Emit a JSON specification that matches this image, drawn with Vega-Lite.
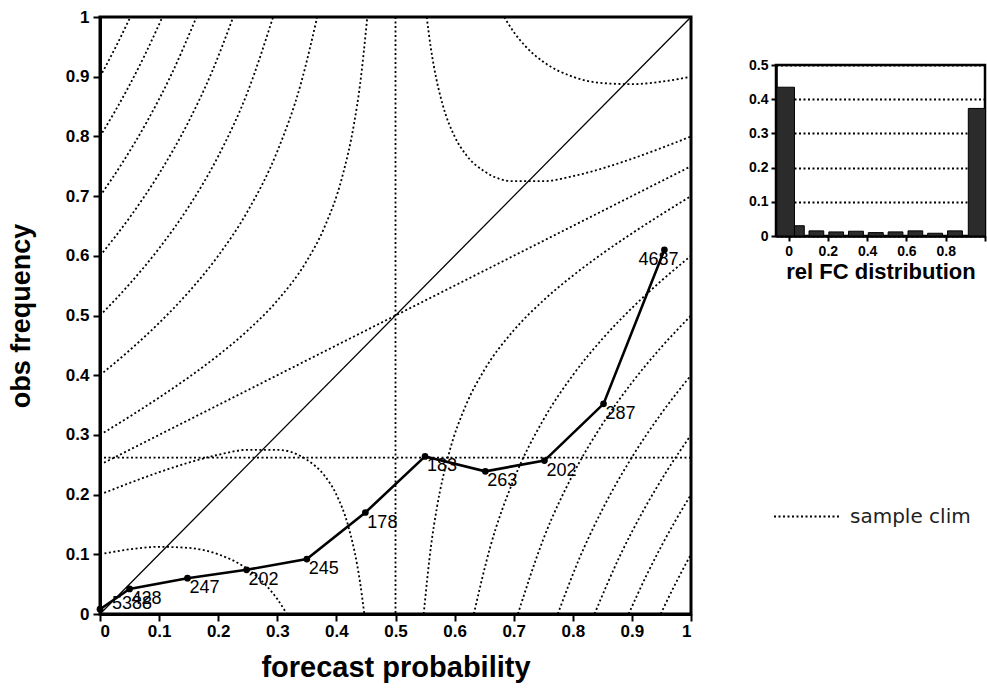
{
  "$schema": "https://vega.github.io/schema/vega-lite/v6.json",
  "background": "white",
  "padding": {"left": 5, "top": 6, "right": 0, "bottom": 0},
  "bounds": "flush",
  "spacing": 85,
  "config": {
    "font": "Liberation Sans",
    "view": {"stroke": "black", "strokeWidth": 3},
    "axis": {
      "domainColor": "black", "tickColor": "black", "labelColor": "black", "titleColor": "black",
      "grid": false, "labelFont": "Liberation Sans", "labelFontWeight": "bold",
      "titleFont": "Liberation Sans", "titleFontWeight": "bold"
    }
  },
  "datasets": {
    "iso": [
      {"c": "ul9", "p": 0, "o": 0.9}, {"c": "ul9", "p": 0.0125, "o": 0.9229}, {"c": "ul9", "p": 0.025, "o": 0.9467}, {"c": "ul9", "p": 0.0375, "o": 0.9715}, {"c": "ul9", "p": 0.0513, "o": 1.0},
      {"c": "ul8", "p": 0, "o": 0.8}, {"c": "ul8", "p": 0.025, "o": 0.8414}, {"c": "ul8", "p": 0.05, "o": 0.8861}, {"c": "ul8", "p": 0.075, "o": 0.9346}, {"c": "ul8", "p": 0.1056, "o": 1.0},
      {"c": "ul7", "p": 0, "o": 0.7}, {"c": "ul7", "p": 0.04, "o": 0.7591}, {"c": "ul7", "p": 0.08, "o": 0.8257}, {"c": "ul7", "p": 0.12, "o": 0.9021}, {"c": "ul7", "p": 0.1633, "o": 1.0},
      {"c": "ul6", "p": 0, "o": 0.6}, {"c": "ul6", "p": 0.05, "o": 0.6639}, {"c": "ul6", "p": 0.1, "o": 0.7375}, {"c": "ul6", "p": 0.15, "o": 0.825}, {"c": "ul6", "p": 0.19, "o": 0.9095}, {"c": "ul6", "p": 0.2254, "o": 1.0},
      {"c": "ul5", "p": 0, "o": 0.5}, {"c": "ul5", "p": 0.05, "o": 0.5528}, {"c": "ul5", "p": 0.1, "o": 0.6125}, {"c": "ul5", "p": 0.15, "o": 0.6821}, {"c": "ul5", "p": 0.2, "o": 0.7667}, {"c": "ul5", "p": 0.25, "o": 0.875}, {"c": "ul5", "p": 0.2929, "o": 1.0},
      {"c": "ul4", "p": 0, "o": 0.4}, {"c": "ul4", "p": 0.05, "o": 0.4417}, {"c": "ul4", "p": 0.1, "o": 0.4875}, {"c": "ul4", "p": 0.15, "o": 0.5393}, {"c": "ul4", "p": 0.2, "o": 0.6}, {"c": "ul4", "p": 0.25, "o": 0.675}, {"c": "ul4", "p": 0.3, "o": 0.775}, {"c": "ul4", "p": 0.34, "o": 0.8888}, {"c": "ul4", "p": 0.3675, "o": 1.0},
      {"c": "ul3", "p": 0, "o": 0.3}, {"c": "ul3", "p": 0.05, "o": 0.3306}, {"c": "ul3", "p": 0.1, "o": 0.3625}, {"c": "ul3", "p": 0.15, "o": 0.3964}, {"c": "ul3", "p": 0.2, "o": 0.4333}, {"c": "ul3", "p": 0.25, "o": 0.475}, {"c": "ul3", "p": 0.3, "o": 0.525}, {"c": "ul3", "p": 0.35, "o": 0.5917}, {"c": "ul3", "p": 0.38, "o": 0.6483}, {"c": "ul3", "p": 0.41, "o": 0.7328}, {"c": "ul3", "p": 0.43, "o": 0.8221}, {"c": "ul3", "p": 0.44, "o": 0.8867}, {"c": "ul3", "p": 0.4523, "o": 1.0},
      {"c": "lr9", "p": 0.9487, "o": 0}, {"c": "lr9", "p": 0.9625, "o": 0.0285}, {"c": "lr9", "p": 0.975, "o": 0.0533}, {"c": "lr9", "p": 0.9875, "o": 0.0771}, {"c": "lr9", "p": 1, "o": 0.1},
      {"c": "lr8", "p": 0.8944, "o": 0}, {"c": "lr8", "p": 0.925, "o": 0.0654}, {"c": "lr8", "p": 0.95, "o": 0.1139}, {"c": "lr8", "p": 0.975, "o": 0.1586}, {"c": "lr8", "p": 1, "o": 0.2},
      {"c": "lr7", "p": 0.8367, "o": 0}, {"c": "lr7", "p": 0.88, "o": 0.0979}, {"c": "lr7", "p": 0.92, "o": 0.1743}, {"c": "lr7", "p": 0.96, "o": 0.2409}, {"c": "lr7", "p": 1, "o": 0.3},
      {"c": "lr6", "p": 0.7746, "o": 0}, {"c": "lr6", "p": 0.81, "o": 0.0905}, {"c": "lr6", "p": 0.85, "o": 0.175}, {"c": "lr6", "p": 0.9, "o": 0.2625}, {"c": "lr6", "p": 0.95, "o": 0.3361}, {"c": "lr6", "p": 1, "o": 0.4},
      {"c": "lr5", "p": 0.7071, "o": 0}, {"c": "lr5", "p": 0.75, "o": 0.125}, {"c": "lr5", "p": 0.8, "o": 0.2333}, {"c": "lr5", "p": 0.85, "o": 0.3179}, {"c": "lr5", "p": 0.9, "o": 0.3875}, {"c": "lr5", "p": 0.95, "o": 0.4472}, {"c": "lr5", "p": 1, "o": 0.5},
      {"c": "lr4", "p": 0.6325, "o": 0}, {"c": "lr4", "p": 0.66, "o": 0.1112}, {"c": "lr4", "p": 0.7, "o": 0.225}, {"c": "lr4", "p": 0.75, "o": 0.325}, {"c": "lr4", "p": 0.8, "o": 0.4}, {"c": "lr4", "p": 0.85, "o": 0.4607}, {"c": "lr4", "p": 0.9, "o": 0.5125}, {"c": "lr4", "p": 0.95, "o": 0.5583}, {"c": "lr4", "p": 1, "o": 0.6},
      {"c": "lr3", "p": 0.5477, "o": 0}, {"c": "lr3", "p": 0.56, "o": 0.1133}, {"c": "lr3", "p": 0.57, "o": 0.1779}, {"c": "lr3", "p": 0.59, "o": 0.2672}, {"c": "lr3", "p": 0.62, "o": 0.3517}, {"c": "lr3", "p": 0.65, "o": 0.4083}, {"c": "lr3", "p": 0.7, "o": 0.475}, {"c": "lr3", "p": 0.75, "o": 0.525}, {"c": "lr3", "p": 0.8, "o": 0.5667}, {"c": "lr3", "p": 0.85, "o": 0.6036}, {"c": "lr3", "p": 0.9, "o": 0.6375}, {"c": "lr3", "p": 0.95, "o": 0.6694}, {"c": "lr3", "p": 1, "o": 0.7},
      {"c": "ll1", "p": 0, "o": 0.1}, {"c": "ll1", "p": 0.05, "o": 0.1083}, {"c": "ll1", "p": 0.1, "o": 0.1125}, {"c": "ll1", "p": 0.15, "o": 0.1107}, {"c": "ll1", "p": 0.2, "o": 0.1}, {"c": "ll1", "p": 0.25, "o": 0.075}, {"c": "ll1", "p": 0.28, "o": 0.0491}, {"c": "ll1", "p": 0.3, "o": 0.025}, {"c": "ll1", "p": 0.3162, "o": 0},
      {"c": "ll2", "p": 0, "o": 0.2}, {"c": "ll2", "p": 0.05, "o": 0.2194}, {"c": "ll2", "p": 0.1, "o": 0.2375}, {"c": "ll2", "p": 0.15, "o": 0.2536}, {"c": "ll2", "p": 0.2, "o": 0.2667}, {"c": "ll2", "p": 0.25, "o": 0.275}, {"c": "ll2", "p": 0.3, "o": 0.275}, {"c": "ll2", "p": 0.35, "o": 0.2583}, {"c": "ll2", "p": 0.38, "o": 0.2317}, {"c": "ll2", "p": 0.4, "o": 0.2}, {"c": "ll2", "p": 0.42, "o": 0.1475}, {"c": "ll2", "p": 0.435, "o": 0.0829}, {"c": "ll2", "p": 0.44, "o": 0.0533}, {"c": "ll2", "p": 0.4472, "o": 0},
      {"c": "ur1", "p": 0.6838, "o": 1}, {"c": "ur1", "p": 0.7, "o": 0.975}, {"c": "ur1", "p": 0.72, "o": 0.9509}, {"c": "ur1", "p": 0.75, "o": 0.925}, {"c": "ur1", "p": 0.8, "o": 0.9}, {"c": "ur1", "p": 0.85, "o": 0.8893}, {"c": "ur1", "p": 0.9, "o": 0.8875}, {"c": "ur1", "p": 0.95, "o": 0.8917}, {"c": "ur1", "p": 1, "o": 0.9},
      {"c": "ur2", "p": 0.5528, "o": 1}, {"c": "ur2", "p": 0.56, "o": 0.9467}, {"c": "ur2", "p": 0.565, "o": 0.9171}, {"c": "ur2", "p": 0.58, "o": 0.8525}, {"c": "ur2", "p": 0.6, "o": 0.8}, {"c": "ur2", "p": 0.62, "o": 0.7683}, {"c": "ur2", "p": 0.65, "o": 0.7417}, {"c": "ur2", "p": 0.7, "o": 0.725}, {"c": "ur2", "p": 0.75, "o": 0.725}, {"c": "ur2", "p": 0.8, "o": 0.7333}, {"c": "ur2", "p": 0.85, "o": 0.7464}, {"c": "ur2", "p": 0.9, "o": 0.7625}, {"c": "ur2", "p": 0.95, "o": 0.7806}, {"c": "ur2", "p": 1, "o": 0.8},
      {"c": "mid", "p": 0, "o": 0.25}, {"c": "mid", "p": 1, "o": 0.75}
    ],
    "rel": [
      {"p": 0.0, "o": 0.008, "n": 5388},
      {"p": 0.05, "o": 0.042, "n": 428},
      {"p": 0.148, "o": 0.06, "n": 247},
      {"p": 0.248, "o": 0.074, "n": 202},
      {"p": 0.35, "o": 0.092, "n": 245},
      {"p": 0.449, "o": 0.17, "n": 178},
      {"p": 0.55, "o": 0.264, "n": 183},
      {"p": 0.652, "o": 0.239, "n": 263},
      {"p": 0.752, "o": 0.257, "n": 202},
      {"p": 0.852, "o": 0.352, "n": 287},
      {"p": 0.955, "o": 0.61, "n": 4687}
    ],
    "hist": [
      {"x0": -0.06, "x1": 0.03, "f": 0.435},
      {"x0": 0.03, "x1": 0.08, "f": 0.03},
      {"x0": 0.104, "x1": 0.179, "f": 0.015},
      {"x0": 0.205, "x1": 0.28, "f": 0.012},
      {"x0": 0.305, "x1": 0.381, "f": 0.014},
      {"x0": 0.406, "x1": 0.482, "f": 0.01},
      {"x0": 0.507, "x1": 0.582, "f": 0.012},
      {"x0": 0.608, "x1": 0.683, "f": 0.015},
      {"x0": 0.708, "x1": 0.784, "f": 0.008},
      {"x0": 0.809, "x1": 0.885, "f": 0.015},
      {"x0": 0.915, "x1": 1.06, "f": 0.373}
    ]
  },
  "hconcat": [
    {
      "width": 591,
      "height": 597,
      "layer": [
        {
          "data": {"name": "iso"},
          "mark": {"type": "line", "interpolate": "monotone", "strokeDash": [2, 2.5], "strokeWidth": 1.8, "color": "black"},
          "encoding": {
            "x": {"field": "p", "type": "quantitative", "scale": {"domain": [0, 1], "nice": false},
              "axis": {"values": [0, 0.1, 0.2, 0.3, 0.4, 0.5, 0.6, 0.7, 0.8, 0.9, 1], "format": "~g", "title": "forecast probability",
                "titleFontSize": 29, "labelFontSize": 17, "tickSize": 7, "tickWidth": 2, "domainWidth": 3, "labelPadding": 2, "titlePadding": 14}},
            "y": {"field": "o", "type": "quantitative", "scale": {"domain": [0, 1], "nice": false},
              "axis": {"values": [0, 0.1, 0.2, 0.3, 0.4, 0.5, 0.6, 0.7, 0.8, 0.9, 1], "format": "~g", "title": "obs frequency",
                "titleFontSize": 27, "labelFontSize": 17, "tickSize": 7, "tickWidth": 2, "domainWidth": 3, "labelPadding": 4, "titlePadding": 30}},
            "detail": {"field": "c"}
          }
        },
        {
          "data": {"values": [{"p": 0.5}]},
          "mark": {"type": "rule", "strokeDash": [2, 2.5], "strokeWidth": 1.8, "color": "black"},
          "encoding": {"x": {"field": "p", "type": "quantitative"}}
        },
        {
          "data": {"values": [{"o": 0.262, "name": "sample clim"}]},
          "mark": {"type": "rule", "strokeWidth": 1.8, "color": "black"},
          "encoding": {
            "y": {"field": "o", "type": "quantitative"},
            "strokeDash": {"field": "name", "type": "nominal", "scale": {"domain": ["sample clim"], "range": [[2, 2.5]]},
              "legend": {"orient": "none", "legendX": 673, "legendY": 465, "title": null, "symbolType": "stroke", "symbolSize": 4489,
                "symbolStrokeWidth": 1.8, "symbolStrokeColor": "black", "labelFontSize": 20, "labelFont": "DejaVu Sans", "labelColor": "#222", "labelOffset": 8}}
          }
        },
        {
          "data": {"values": [{"p": 0, "o": 0}, {"p": 1, "o": 1}]},
          "mark": {"type": "line", "strokeWidth": 1.3, "color": "black"},
          "encoding": {"x": {"field": "p", "type": "quantitative"}, "y": {"field": "o", "type": "quantitative"}}
        },
        {
          "data": {"name": "rel"},
          "mark": {"type": "line", "strokeWidth": 2.6, "color": "black"},
          "encoding": {"x": {"field": "p", "type": "quantitative"}, "y": {"field": "o", "type": "quantitative"}}
        },
        {
          "data": {"name": "rel"},
          "mark": {"type": "circle", "size": 45, "color": "black", "opacity": 1},
          "encoding": {"x": {"field": "p", "type": "quantitative"}, "y": {"field": "o", "type": "quantitative"}}
        },
        {
          "data": {"name": "rel"},
          "transform": [{"filter": "datum.n != 5388 && datum.n != 4687"}],
          "mark": {"type": "text", "align": "left", "baseline": "middle", "dx": 2, "dy": 10, "fontSize": 18, "font": "Liberation Sans", "color": "black"},
          "encoding": {"x": {"field": "p", "type": "quantitative"}, "y": {"field": "o", "type": "quantitative"}, "text": {"field": "n"}}
        },
        {
          "data": {"name": "rel"},
          "transform": [{"filter": "datum.n == 5388"}],
          "mark": {"type": "text", "align": "left", "baseline": "middle", "dx": 12, "dy": -5, "fontSize": 18, "font": "Liberation Sans", "color": "black"},
          "encoding": {"x": {"field": "p", "type": "quantitative"}, "y": {"field": "o", "type": "quantitative"}, "text": {"field": "n"}}
        },
        {
          "data": {"name": "rel"},
          "transform": [{"filter": "datum.n == 4687"}],
          "mark": {"type": "text", "align": "center", "baseline": "middle", "dx": -6, "dy": 10, "fontSize": 18, "font": "Liberation Sans", "color": "black"},
          "encoding": {"x": {"field": "p", "type": "quantitative"}, "y": {"field": "o", "type": "quantitative"}, "text": {"field": "n"}}
        }
      ]
    },
    {
      "bounds": "flush",
      "spacing": 0,
      "vconcat": [
        {
          "width": 209,
          "height": 48,
          "data": {"values": []},
          "mark": "point",
          "view": {"stroke": null}
        },
        {
          "width": 209,
          "height": 171,
          "view": {"stroke": "black", "strokeWidth": 2.5},
          "data": {"name": "hist"},
          "mark": {"type": "rect", "fill": "#2b2b2b", "stroke": "black", "strokeWidth": 1, "clip": true},
          "encoding": {
            "x": {"field": "x0", "type": "quantitative", "scale": {"domain": [-0.064, 1.0], "nice": false, "zero": false},
              "axis": {"values": [0, 0.2, 0.4, 0.6, 0.8, 1], "format": "~g", "labelExpr": "datum.value == 1 ? '' : datum.label",
                "title": "rel FC distribution", "titleFontSize": 22, "labelFontSize": 14, "tickSize": 5, "tickWidth": 2, "domainWidth": 2.5, "labelPadding": 3, "titlePadding": 3}},
            "x2": {"field": "x1"},
            "y": {"field": "f", "type": "quantitative", "scale": {"domain": [0, 0.5], "nice": false},
              "axis": {"values": [0, 0.1, 0.2, 0.3, 0.4, 0.5], "format": "~g", "title": null, "labelFontSize": 14, "tickSize": 5, "tickWidth": 2,
                "domainWidth": 2.5, "labelPadding": 3, "grid": true, "gridColor": "black", "gridDash": [2, 2.5], "gridWidth": 1.8, "gridOpacity": 1}},
            "y2": {"datum": 0}
          }
        }
      ]
    }
  ]
}
